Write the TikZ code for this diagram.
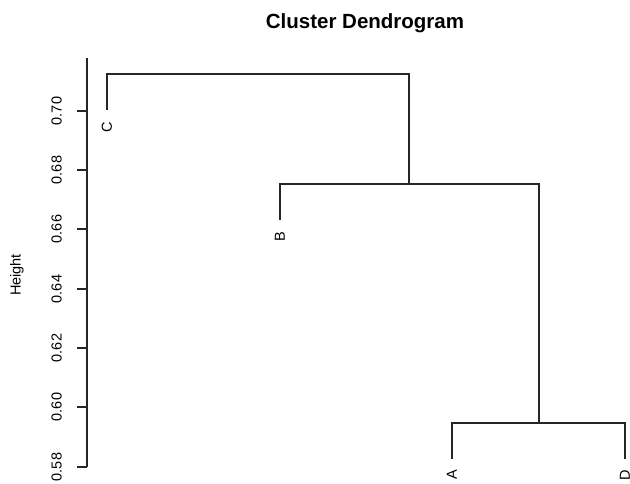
\documentclass[tikz,border=0pt]{standalone}
\usepackage{fontspec}
\setmainfont{Liberation Sans}
\usetikzlibrary{calc}
\tikzset{
  branch/.style={draw=black!85, line width=1.3pt},
  axisline/.style={draw=black!85, line width=1.3pt},
  ticklab/.style={rotate=90, anchor=base, inner sep=0pt, font=\fontsize{14.5}{17}\selectfont},
  leaflab/.style={rotate=90, anchor=east, inner sep=0pt, font=\fontsize{14.5}{17}\selectfont},
  titlelab/.style={anchor=base, inner sep=0pt, font=\fontsize{20.5}{24}\selectfont\bfseries}
}
\begin{document}
\begin{tikzpicture}[x=1pt, y=-1pt]
\useasboundingbox (0,0) rectangle (630,484);
% title
\node[titlelab] (title) at (365,29) {Cluster Dendrogram};
% axis
\coordinate (axtop) at (87,58);
\coordinate (axbot) at (87,467);
\draw[axisline] (axtop) -- (axbot);
\foreach \v/\y/\k in {0.58/467/a, 0.60/407/b, 0.62/348/c, 0.64/289/d, 0.66/229/e, 0.68/170/f, 0.70/111/g} {
  \coordinate (tick\k) at (87,\y);
  \coordinate (tickend\k) at (77,\y);
  \draw[axisline] (tick\k) -- (tickend\k);
  \node[ticklab] (lab\k) at (61.5,\y) {\v};
}
\node[ticklab] (ylab) at (20.5,275) {Height};
% leaves and merges
\coordinate (Cl) at (107,110);
\coordinate (Bl) at (280,220);
\coordinate (Al) at (452,459);
\coordinate (Dl) at (625,459);
\coordinate (ad) at (539,423);
\coordinate (bad) at (409,184);
\coordinate (root) at (258,74);
\draw[branch] (Al) |- (ad) -| (Dl);
\draw[branch] (Bl) |- (bad) -| (ad);
\draw[branch] (Cl) |- (root) -| (bad);
% leaf labels
\node[leaflab] (C) at ($(Cl)+(0,11.5)$) {C};
\node[leaflab] (B) at ($(Bl)+(0,12)$) {B};
\node[leaflab] (A) at ($(Al)+(0,11)$) {A};
\node[leaflab] (D) at ($(Dl)+(0,10.5)$) {D};
\end{tikzpicture}
\end{document}
